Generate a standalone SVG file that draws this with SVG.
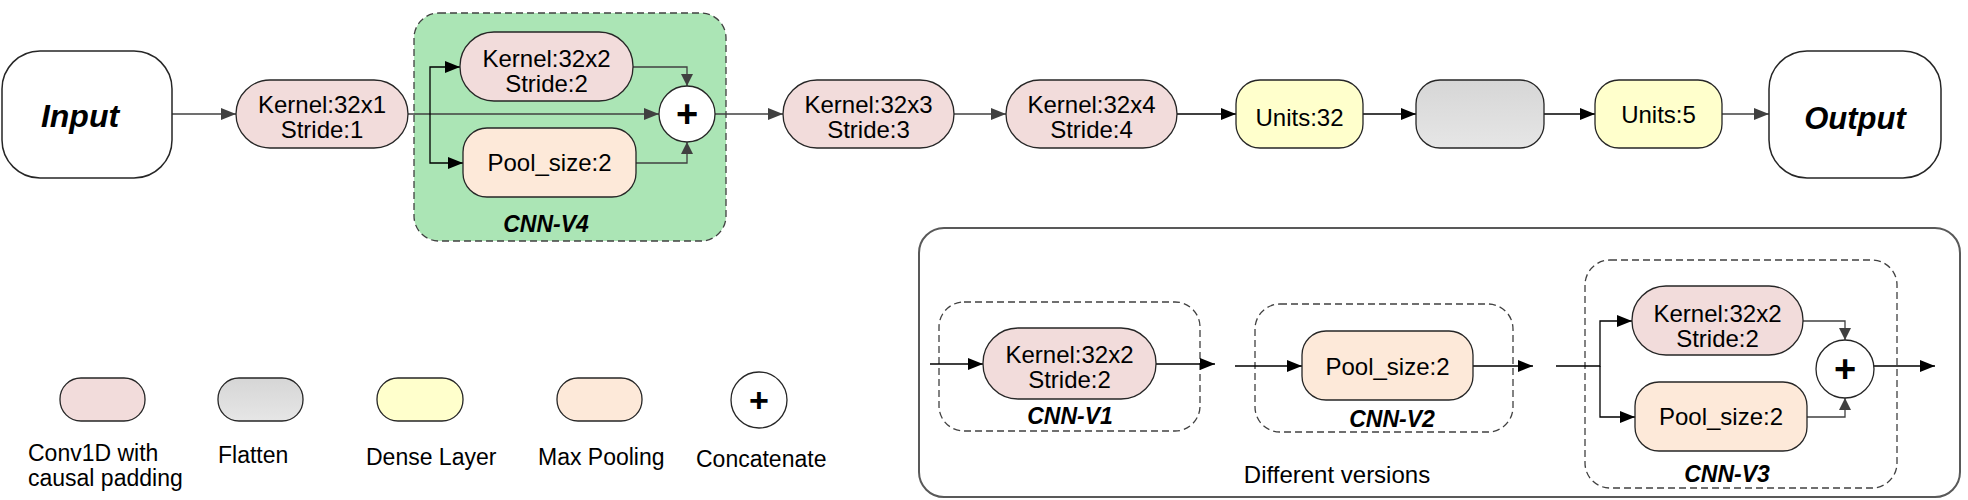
<svg xmlns="http://www.w3.org/2000/svg" width="1968" height="500" viewBox="0 0 1968 500">
<defs>
<linearGradient id="gFlat" x1="0" y1="0" x2="0" y2="1">
<stop offset="0" stop-color="#d6d6d6"/><stop offset="1" stop-color="#e6e6e6"/>
</linearGradient>
<marker id="ag" viewBox="0 0 15 12" markerUnits="userSpaceOnUse" markerWidth="15" markerHeight="12" refX="15" refY="6" orient="auto"><path d="M0,0 L15,6 L0,12 z" fill="#404040"/></marker>
<marker id="ab" viewBox="0 0 15 12" markerUnits="userSpaceOnUse" markerWidth="15" markerHeight="12" refX="15" refY="6" orient="auto"><path d="M0,0 L15,6 L0,12 z" fill="#000"/></marker>
<marker id="as" viewBox="0 0 12 12" markerUnits="userSpaceOnUse" markerWidth="12" markerHeight="12" refX="12" refY="6" orient="auto"><path d="M0,0 L12,6 L0,12 z" fill="#404040"/></marker>
</defs>
<style>
text{font-family:"Liberation Sans",Arial,sans-serif;fill:#000}
.t{font-size:24px;text-anchor:middle}
.lg{font-size:23px}
.bi{font-weight:bold;font-style:italic;text-anchor:middle}
.plus{font-size:38px;font-weight:bold;text-anchor:middle}
.conv{fill:#f2dcdb;stroke:#262626;stroke-width:1.3}
.pool{fill:#fde9d9;stroke:#262626;stroke-width:1.3}
.dense{fill:#ffffcc;stroke:#262626;stroke-width:1.3}
.flat{fill:url(#gFlat);stroke:#262626;stroke-width:1.3}
.io{fill:#fff;stroke:#262626;stroke-width:1.5}
.cat{fill:#fff;stroke:#262626;stroke-width:1.3}
.dash{fill:none;stroke:#404040;stroke-width:1.3;stroke-dasharray:7 4}
.c{fill:none;stroke:#404040;stroke-width:1.3;marker-end:url(#ag)}
.cb{fill:none;stroke:#000;stroke-width:1.3;marker-end:url(#ab)}
.cs{fill:none;stroke:#404040;stroke-width:1.3;marker-end:url(#as)}
</style>
<rect width="1968" height="500" fill="#fff"/>

<g id="cnn-v4-group">
<rect x="414" y="13" width="312" height="228" rx="25" fill="#abe5b5" stroke="#404040" stroke-width="1.3" stroke-dasharray="7 4"/>
<text class="bi" x="546" y="232" font-size="23">CNN-V4</text>
</g>

<g id="versions-panel">
<rect x="919" y="228" width="1041" height="269" rx="25" fill="none" stroke="#595959" stroke-width="2"/>
<text class="t" x="1337" y="483">Different versions</text>
</g>
<g id="cnn-v1-group">
<rect class="dash" x="939" y="302" width="261" height="129" rx="25"/>
<text class="bi" x="1070" y="424" font-size="23">CNN-V1</text>
</g>
<g id="cnn-v2-group">
<rect class="dash" x="1255" y="304" width="258" height="128" rx="25"/>
<text class="bi" x="1392" y="427" font-size="23">CNN-V2</text>
</g>
<g id="cnn-v3-group">
<rect class="dash" x="1585" y="260" width="312" height="228" rx="25"/>
<text class="bi" x="1727" y="482" font-size="23">CNN-V3</text>
</g>

<g id="connectors">
<path class="c" d="M172,114 H236"/>
<path class="c" d="M408,114 H659"/>
<path class="cb" d="M430,114 V67 H460"/>
<path class="cb" d="M430,114 V163 H463"/>
<path class="cs" d="M633,67 H687 V86"/>
<path class="cs" d="M636,163 H687 V142"/>
<path class="c" d="M715,114 H783"/>
<path class="c" d="M954,114 H1006"/>
<path class="cb" d="M1177,114 H1236"/>
<path class="cb" d="M1363,114 H1416"/>
<path class="cb" d="M1544,114 H1595"/>
<path class="c" d="M1722,114 H1769"/>
<path class="cb" d="M930,364 H983"/>
<path class="cb" d="M1156,364 H1215"/>
<path class="cb" d="M1235,366 H1302"/>
<path class="cb" d="M1473,366 H1533"/>
<path class="cb" d="M1556,366 H1600 V321 H1632"/>
<path class="cb" d="M1600,366 V417 H1635"/>
<path class="cs" d="M1803,321 H1845 V340"/>
<path class="cs" d="M1807,417 H1845 V398"/>
<path class="cb" d="M1874,366 H1935"/>
</g>

<g id="input">
<rect class="io" x="2" y="51" width="170" height="127" rx="38"/>
<text class="bi" x="80" y="127" font-size="32">Input</text>
</g>
<g id="conv1">
<rect class="conv" x="236" y="80" width="172" height="68" rx="34"/>
<text class="t" x="322" y="113">Kernel:32x1</text>
<text class="t" x="322" y="138">Stride:1</text>
</g>
<g id="v4-conv">
<rect class="conv" x="460" y="32" width="173" height="69" rx="34"/>
<text class="t" x="546.5" y="67">Kernel:32x2</text>
<text class="t" x="546.5" y="92">Stride:2</text>
</g>
<g id="v4-pool">
<rect class="pool" x="463" y="128" width="173" height="69" rx="24"/>
<text class="t" x="549.5" y="171">Pool_size:2</text>
</g>
<g id="v4-concat">
<circle class="cat" cx="687" cy="114" r="28"/>
<text class="plus" x="687" y="127">+</text>
</g>
<g id="conv3">
<rect class="conv" x="783" y="80" width="171" height="68" rx="34"/>
<text class="t" x="868.5" y="113">Kernel:32x3</text>
<text class="t" x="868.5" y="138">Stride:3</text>
</g>
<g id="conv4">
<rect class="conv" x="1006" y="80" width="171" height="68" rx="34"/>
<text class="t" x="1091.5" y="113">Kernel:32x4</text>
<text class="t" x="1091.5" y="138">Stride:4</text>
</g>
<g id="dense32">
<rect class="dense" x="1236" y="80" width="127" height="68" rx="24"/>
<text class="t" x="1299.5" y="126">Units:32</text>
</g>
<g id="flatten">
<rect class="flat" x="1416" y="80" width="128" height="68" rx="24"/>
</g>
<g id="dense5">
<rect class="dense" x="1595" y="80" width="127" height="68" rx="24"/>
<text class="t" x="1658.5" y="123">Units:5</text>
</g>
<g id="output">
<rect class="io" x="1769" y="51" width="172" height="127" rx="38"/>
<text class="bi" x="1855" y="129" font-size="31">Output</text>
</g>

<g id="v1-conv">
<rect class="conv" x="983" y="328" width="173" height="71" rx="35"/>
<text class="t" x="1069.5" y="363">Kernel:32x2</text>
<text class="t" x="1069.5" y="388">Stride:2</text>
</g>
<g id="v2-pool">
<rect class="pool" x="1302" y="331" width="171" height="69" rx="24"/>
<text class="t" x="1387.5" y="375">Pool_size:2</text>
</g>
<g id="v3-conv">
<rect class="conv" x="1632" y="286" width="171" height="69" rx="34"/>
<text class="t" x="1717.5" y="322">Kernel:32x2</text>
<text class="t" x="1717.5" y="347">Stride:2</text>
</g>
<g id="v3-pool">
<rect class="pool" x="1635" y="382" width="172" height="69" rx="24"/>
<text class="t" x="1721" y="425">Pool_size:2</text>
</g>
<g id="v3-concat">
<circle class="cat" cx="1845" cy="369" r="29"/>
<text class="plus" x="1845" y="382">+</text>
</g>

<g id="legend-conv">
<rect class="conv" x="60" y="378" width="85" height="43" rx="21"/>
<text class="lg" x="28" y="461">Conv1D with</text>
<text class="lg" x="28" y="486">causal padding</text>
</g>
<g id="legend-flatten">
<rect class="flat" x="218" y="378" width="85" height="43" rx="21"/>
<text class="lg" x="218" y="463">Flatten</text>
</g>
<g id="legend-dense">
<rect class="dense" x="377" y="378" width="86" height="43" rx="21"/>
<text class="lg" x="366" y="465">Dense Layer</text>
</g>
<g id="legend-pool">
<rect class="pool" x="557" y="378" width="85" height="43" rx="21"/>
<text class="lg" x="538" y="465">Max Pooling</text>
</g>
<g id="legend-concat">
<circle class="cat" cx="759" cy="400" r="28"/>
<text class="plus" x="759" y="412" style="font-size:34px">+</text>
<text class="lg" x="696" y="467">Concatenate</text>
</g>
</svg>
